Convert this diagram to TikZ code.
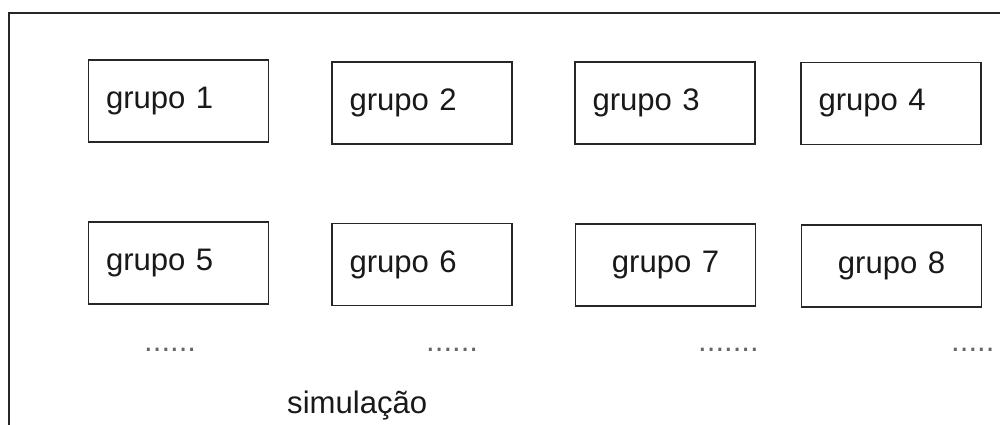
\documentclass[tikz,border=0pt]{standalone}
\usepackage{fontspec}
\setmainfont{Liberation Sans}
\usepackage{tikz}
\usetikzlibrary{positioning}

\begin{document}
\begin{tikzpicture}[
    font=\fontsize{17.7}{20}\selectfont,
    grupo/.style={draw=black!85, line width=1.1pt, minimum width=3.6cm, minimum height=1.64cm,
                  inner xsep=0.35cm, text width=2.9cm, align=left, text=black!90},
    grupoc/.style={grupo, align=center},
    reticencias/.style={anchor=base west, text=black!60}
  ]
  \useasboundingbox (0,0) rectangle (20,-8.5);

  % Frame
  \coordinate (cantoE) at (0.18,-9);
  \coordinate (cantoNO) at (0.18,-0.26);
  \coordinate (cantoNE) at (20.5,-0.26);
  \draw[draw=black!85, line width=1.2pt] (cantoE) -- (cantoNO) -- (cantoNE);

  % Groups, first row
  \node[grupo] (g1) at (3.57,-2.02) {grupo 1};
  \node[grupo] (g2) at (8.44,-2.06) {grupo 2};
  \node[grupo] (g3) at (13.30,-2.06) {grupo 3};
  \node[grupo] (g4) at (17.82,-2.07) {grupo 4};

  % Groups, second row
  \node[grupo]  (g5) at (3.57,-5.26) {grupo 5};
  \node[grupo]  (g6) at (8.44,-5.29) {grupo 6};
  \node[grupoc] (g7) at (13.31,-5.30) {grupo 7};
  \node[grupoc] (g8) at (17.83,-5.32) {grupo 8};

  % Dots
  \node[reticencias] (r1) at (2.76,-7.04) {......};
  \node[reticencias] (r2) at (8.40,-7.04) {......};
  \node[reticencias] (r3) at (13.84,-7.04) {.......};
  \node[reticencias] (r4) at (18.90,-7.04) {.....};

  % Label
  \node[anchor=base west, text=black!90] (sim) at (5.62,-8.27) {simulação};
\end{tikzpicture}
\end{document}
